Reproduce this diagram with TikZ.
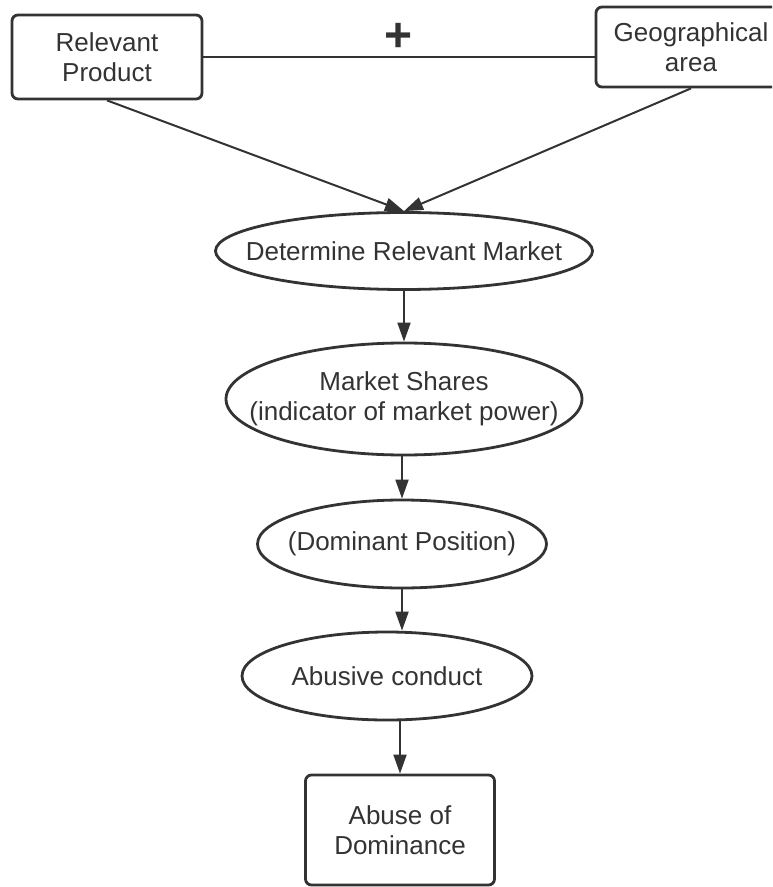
\documentclass[tikz,border=0pt]{standalone}
\usepackage{fontspec}
\setmainfont{Liberation Sans}
\usetikzlibrary{shapes.geometric,arrows.meta}
\definecolor{ink}{HTML}{333333}
\begin{document}
\begin{tikzpicture}[x=0.5pt, y=-0.5pt,
  box/.style={draw=ink, line width=1.4pt, rounded corners=3pt, align=center, inner sep=0pt},
  oval/.style={draw=ink, line width=1.4pt, ellipse, inner sep=0pt},
  txt/.style={text=ink, align=center, font=\fontsize{13}{15}\selectfont},
  arr/.style={draw=ink, line width=1pt, -{Triangle[length=9.5pt,width=6.5pt]}},
  link/.style={draw=ink, line width=1pt}]
\def\xm{404};
\def\xc{402};
\def\xd{387};

\def\ya{251};
\def\yb{399};
\def\yc{544};
\def\yd{676};
\def\ye{830};

\clip (0,0) rectangle (772,887);

\node[box, txt, minimum width=95pt, minimum height=42pt] (rp) at (107,57) {Relevant\\Product};
\node[box, txt, minimum width=95pt, minimum height=40pt] (ga) at (691,47) {Geographical\\area};
\node[text=ink, font=\fontsize{24}{24}\selectfont\bfseries] (plus) at (399,37) {+};

\node[oval, minimum width=188.5pt, minimum height=38.5pt] (e1) at (\xm,\ya) {};
\node[txt] (e1t) at (e1) {Determine Relevant Market};

\node[oval, minimum width=178pt, minimum height=56pt] (e2) at (\xm,\yb) {};
\node[txt] (e2t) at (e2) {Market Shares\\(indicator of market power)};

\node[oval, minimum width=144.5pt, minimum height=44pt] (e3) at (\xc,\yc) {};
\node[txt] (e3t) at (e3) {(Dominant Position)};

\node[oval, minimum width=145pt, minimum height=44pt] (e4) at (\xd,\yd) {};
\node[txt] (e4t) at (e4) {Abusive conduct};

\node[box, txt, minimum width=94.5pt, minimum height=55pt] (ad) at (400,\ye) {Abuse of\\Dominance};

\draw[link] (rp.east) -- (rp.east -| ga.west);
\draw[arr] (rp.south) -- (e1.north);
\draw[arr] (ga.south) -- (e1.north);
\draw[arr] (e1.south) -- (e2.north);
\draw[arr] (e3.north |- e2.south) -- (e3.north);
\draw[arr] (e3.south) -- (e3.south |- e4.north);
\draw[arr] (e4.south -| ad.north) -- (ad.north);

\end{tikzpicture}
\end{document}
